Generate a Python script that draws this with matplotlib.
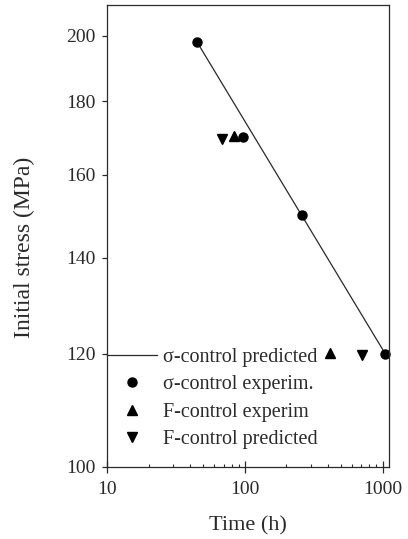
# Initial stress vs time to failure, sigma- and F-control
import numpy as np
import matplotlib
import matplotlib.pyplot as plt
from matplotlib.ticker import FixedLocator, FixedFormatter, NullLocator, LogLocator, NullFormatter

# sigma-control predicted (power-law line)
pred_time = [45, 1040]
pred_stress = [198, 120]

# sigma-control experimental points
sig_exp_time = [45, 97, 259, 1040]
sig_exp_stress = [198, 170, 150, 120]

# F-control experimental points
f_exp_time = [83, 414]
f_exp_stress = [170.3, 120.2]

# F-control predicted points
f_pred_time = [68, 703]
f_pred_stress = [169.5, 119.8]

yticks = [100, 120, 140, 160, 180, 200]
xticks = [10, 100, 1000]

matplotlib.rcParams['font.family'] = ['Liberation Serif', 'DejaVu Serif']
ink = "#2a2a2a"

fig = plt.figure(figsize=(4.08, 5.39), dpi=100)
ax = fig.add_axes([0.2623, 0.1336, 0.6912, 0.8562])

ax.set_xscale('log')
ax.set_yscale('log')

ax.plot(pred_time, pred_stress, color=ink, lw=0.9, label="σ-control predicted")
ax.plot(sig_exp_time, sig_exp_stress, 'o', color='black', ms=6.5, ls='none',
        label="σ-control experim.", clip_on=False)
ax.plot(f_exp_time, f_exp_stress, '^', color='black', ms=7, ls='none',
        label="F-control experim")
ax.plot(f_pred_time, f_pred_stress, 'v', color='black', ms=7, ls='none',
        label="F-control predicted")

ax.set_xlim(10, 1110)
ax.set_ylim(100, 210)

ax.yaxis.set_major_locator(FixedLocator(yticks))
ax.yaxis.set_major_formatter(FixedFormatter([str(v) for v in yticks]))
ax.yaxis.set_minor_locator(NullLocator())
ax.xaxis.set_major_locator(FixedLocator(xticks))
ax.xaxis.set_major_formatter(FixedFormatter([str(v) for v in xticks]))
ax.xaxis.set_minor_locator(LogLocator(base=10, subs=np.arange(2, 10)))
ax.xaxis.set_minor_formatter(NullFormatter())

ax.tick_params(axis='y', which='major', direction='out', length=3.8, width=0.9,
               labelsize=14, colors=ink, pad=4.5)
ax.tick_params(axis='x', which='major', direction='inout', length=8, width=0.9,
               labelsize=14, colors=ink, pad=6)
ax.tick_params(axis='x', which='minor', direction='in', length=2.5, width=0.8, colors=ink)

for s in ax.spines.values():
    s.set_color(ink)
    s.set_linewidth(0.9)

ax.set_xlabel("Time (h)", fontsize=16, color=ink, labelpad=13)
ax.set_ylabel("Initial stress (MPa)", fontsize=17, color=ink)
ax.yaxis.set_label_coords(-0.255, 0.476)

leg = ax.legend(loc='upper left', bbox_to_anchor=(0.0, 0.2585), frameon=False,
                fontsize=14.5, handlelength=2.5, handletextpad=0.3,
                labelspacing=0.42, borderpad=0, borderaxespad=0)
for t in leg.get_texts():
    t.set_color(ink)

fig.savefig("out.png", dpi=100)
